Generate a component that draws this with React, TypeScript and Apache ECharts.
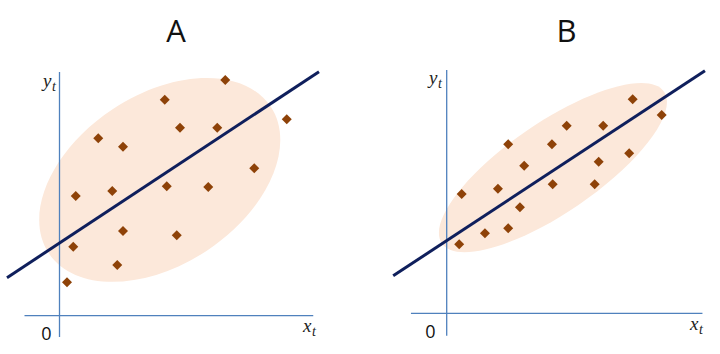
import React, { useEffect, useRef } from "react";
import * as echarts from "echarts";

// Panel A data (axis units; origin at axes intersection)
const pointsA: number[][] = [
  [6.63, 9.43], [4.21, 8.64], [9.09, 7.86], [4.82, 7.52], [6.31, 7.52],
  [1.55, 7.1], [2.54, 6.76], [7.79, 5.9], [0.65, 4.79], [2.11, 4.99],
  [4.29, 5.18], [5.95, 5.15], [2.54, 3.39], [4.69, 3.22], [0.55, 2.76],
  [2.31, 2.03], [0.3, 1.34],
];
const fitLineA: number[][] = [[-2.1, 1.52], [10.38, 9.76]];
// ellipse: [cx, cy, rx, ry, angleDeg]
const ellipseA: number[] = [4.01, 5.43, 5.32, 3.4, 33.4];
const xAxisLineA: number[][] = [[-1.4, 0], [10.15, 0]];
const yAxisLineA: number[][] = [[0, -0.85], [0, 9.75]];

// Panel B data
const pointsB: number[][] = [
  [7.44, 8.56], [8.6, 7.93], [4.8, 7.5], [6.26, 7.5], [2.46, 6.76],
  [4.21, 6.76], [7.3, 6.4], [6.08, 6.06], [3.1, 5.9], [0.6, 4.77],
  [2.05, 4.98], [4.24, 5.16], [5.92, 5.16], [2.93, 4.24], [1.53, 3.2],
  [2.46, 3.4], [0.5, 2.76],
];
const fitLineB: number[][] = [[-2.14, 1.5], [10.33, 9.7]];
const ellipseB: number[] = [4.25, 5.83, 5.38, 1.81, 34.3];
const xAxisLineB: number[][] = [[-1.43, 0], [10.23, 0]];
const yAxisLineB: number[][] = [[0, -0.9], [0, 9.73]];

const panelTitles = ["A", "B"];

const AXIS_COLOR = "#4F81BD";
const LINE_COLOR = "#0F1F5C";
const POINT_COLOR = "#8E4208";
const ELLIPSE_COLOR = "#FCE8DA";

export default function App() {
  const ref = useRef<HTMLDivElement>(null);
  useEffect(() => {
    if (!ref.current) return;
    const chart = echarts.init(ref.current, null, { renderer: "svg" });

    const hiddenAxis = (gridIndex: number, min: number, max: number) => ({
      type: "value" as const,
      gridIndex,
      min,
      max,
      show: false,
      splitLine: { show: false },
    });

    const ellipseSeries = (idx: number, e: number[]) => ({
      type: "custom" as const,
      xAxisIndex: idx,
      yAxisIndex: idx,
      z: 1,
      silent: true,
      clip: false,
      data: [e],
      encode: { x: 0, y: 1 },
      renderItem: (_p: any, api: any) => {
        const c = api.coord([api.value(0), api.value(1)]);
        const s = api.size([api.value(2), api.value(3)]);
        return {
          type: "ellipse",
          x: c[0],
          y: c[1],
          rotation: (api.value(4) * Math.PI) / 180,
          shape: { cx: 0, cy: 0, rx: s[0], ry: s[1] },
          style: { fill: ELLIPSE_COLOR, stroke: "none" },
        };
      },
    });

    const lineSeries = (idx: number, data: number[][], color: string, width: number, z: number) => ({
      type: "line" as const,
      xAxisIndex: idx,
      yAxisIndex: idx,
      data,
      z,
      symbol: "none",
      clip: false,
      silent: true,
      lineStyle: { color, width },
    });

    const scatterSeries = (idx: number, data: number[][]) => ({
      type: "scatter" as const,
      xAxisIndex: idx,
      yAxisIndex: idx,
      data,
      z: 5,
      symbol: "diamond",
      symbolSize: 10,
      itemStyle: { color: POINT_COLOR, opacity: 1 },
      silent: true,
    });

    const italic = (text: string, x: number, y: number, size: number) => ({
      type: "text" as const,
      x,
      y,
      style: {
        text,
        fill: "#222",
        font: `italic ${size}px "Liberation Serif", serif`,
        textAlign: "left",
        textVerticalAlign: "bottom",
      },
    });
    const plain = (text: string, x: number, y: number, size: number) => ({
      type: "text" as const,
      x,
      y,
      style: {
        text,
        fill: "#111",
        font: `${size}px "Open Sans", sans-serif`,
        textAlign: "center",
        textVerticalAlign: "middle",
      },
    });

    chart.setOption({
      animation: false,
      grid: [
        { left: 4.5, top: 65.7, width: 317.5, height: 275 },
        { left: 391.7, top: 63.3, width: 317.5, height: 275 },
      ],
      xAxis: [hiddenAxis(0, -2.2, 10.5), hiddenAxis(1, -2.2, 10.5)],
      yAxis: [hiddenAxis(0, -1, 10), hiddenAxis(1, -1, 10)],
      series: [
        ellipseSeries(0, ellipseA),
        lineSeries(0, xAxisLineA, AXIS_COLOR, 1.3, 2),
        lineSeries(0, yAxisLineA, AXIS_COLOR, 1.3, 2),
        lineSeries(0, fitLineA, LINE_COLOR, 3, 3),
        scatterSeries(0, pointsA),
        ellipseSeries(1, ellipseB),
        lineSeries(1, xAxisLineB, AXIS_COLOR, 1.3, 2),
        lineSeries(1, yAxisLineB, AXIS_COLOR, 1.3, 2),
        lineSeries(1, fitLineB, LINE_COLOR, 3, 3),
        scatterSeries(1, pointsB),
      ],
      graphic: [
        plain(panelTitles[0], 176, 30, 31),
        plain(panelTitles[1], 566.5, 30, 31),
        plain("0", 46.5, 332.5, 18),
        plain("0", 430.5, 331, 18),
        italic("y", 43, 90, 19),
        italic("t", 52, 93, 14),
        italic("x", 303, 335, 19),
        italic("t", 312, 338, 14),
        italic("y", 429, 87, 19),
        italic("t", 438, 90, 14),
        italic("x", 690, 333, 19),
        italic("t", 699, 336, 14),
      ],
    });
    return () => chart.dispose();
  }, []);
  return (
    <div
      ref={ref}
      style={{ position: "fixed", left: 0, top: 0, width: 720, height: 354, background: "#fff" }}
    />
  );
}
